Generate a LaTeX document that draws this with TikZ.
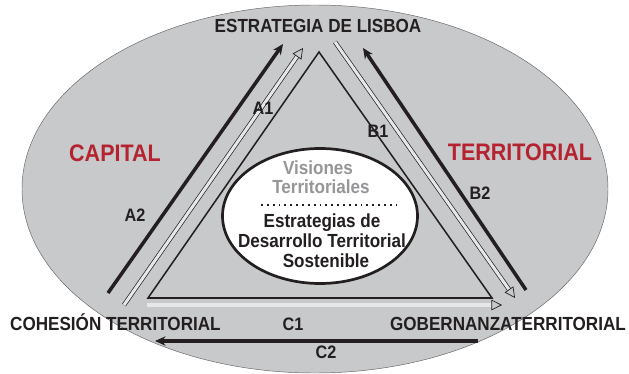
\documentclass[tikz,border=0pt]{standalone}
\usepackage{fontspec}
\setmainfont[FakeStretch=0.9]{Liberation Sans}
\usetikzlibrary{arrows.meta, shapes.geometric}

\definecolor{bggray}{RGB}{200,201,203}
\definecolor{capred}{RGB}{181,35,48}
\definecolor{textgray}{RGB}{150,150,152}
\definecolor{inkblack}{RGB}{35,31,32}

\begin{document}
\begin{tikzpicture}[
    x=0.03cm, y=-0.03cm,
    corner/.style={font=\fontsize{16.2}{19}\selectfont\bfseries, text=inkblack, inner sep=0pt, anchor=base},
    side/.style={font=\fontsize{20.4}{24}\selectfont\bfseries, text=capred, inner sep=0pt, anchor=base},
    tag/.style={font=\fontsize{15.4}{18}\selectfont\bfseries, text=inkblack, inner sep=0pt},
    inner/.style={font=\fontsize{16.2}{19}\selectfont\bfseries, inner sep=0pt, anchor=base},
    solidarrow/.style={line width=3pt, draw=inkblack, -{Stealth[length=9pt, width=8pt, inset=3pt]}},
    hollowarrow/.style={line width=0.6pt, draw=inkblack, double=white!55!bggray, double distance=2.6pt,
        -{Triangle[open, length=9pt, width=9pt]}},
]
\useasboundingbox (0,0) rectangle (629,374);

% background ellipse
\node[ellipse, draw=black!60, thin, fill=bggray, minimum width=586*0.03cm, minimum height=368*0.03cm,
      inner sep=0pt] (bg) at (315,189) {};

% triangle
\coordinate (top) at (319,52);
\coordinate (bl) at (148,298);
\coordinate (br) at (492,298);
\draw[line width=1.3pt, inkblack, line join=miter] (top) -- (bl) -- (br) -- cycle;

% central ellipse
\node[ellipse, draw=inkblack, line width=2.3pt, fill=white, minimum width=195*0.03cm, minimum height=135*0.03cm,
      inner sep=0pt] (core) at (320,216) {};
\node[inner, text=textgray] (vis1) at (318,175) {Visiones};
\node[inner, text=textgray] (vis2) at (321,194) {Territoriales};
\coordinate (dotl) at (261,205);
\coordinate (dotr) at (397,205);
\draw[line width=1.6pt, inkblack, dash pattern=on 1.6pt off 3.4pt] (dotl) -- (dotr);
\node[inner, text=inkblack] (est1) at (322,227) {Estrategias de};
\node[inner, text=inkblack] (est2) at (322,247) {Desarrollo Territorial};
\node[inner, text=inkblack] (est3) at (326,267) {Sostenible};

% corners
\node[corner] (lisboa) at (318,33) {ESTRATEGIA DE LISBOA};
\node[corner, anchor=base west] (cohesion) at (10,330) {COHESIÓN TERRITORIAL};
\node[corner, anchor=base east] (gober) at (626,330) {GOBERNANZATERRITORIAL};

% sides
\node[side] (capital) at (115,162) {CAPITAL};
\node[side] (territ) at (520,161) {TERRITORIAL};

% arrow ends
\coordinate (a2s) at (108,293); \coordinate (a2e) at (283,44);
\coordinate (a1s) at (124,305); \coordinate (a1e) at (303,48);
\coordinate (b1s) at (335,42);  \coordinate (b1e) at (515,298);
\coordinate (b2s) at (526,290); \coordinate (b2e) at (363,48);
\coordinate (c1s) at (147,305); \coordinate (c1e) at (502,305);
\coordinate (c2s) at (478,341); \coordinate (c2e) at (155,341);

\draw[solidarrow] (a2s) -- (a2e);
\draw[hollowarrow] (a1s) -- (a1e);
\draw[hollowarrow] (b1s) -- (b1e);
\draw[solidarrow] (b2s) -- (b2e);
\draw[hollowarrow] (c1s) -- (c1e);
\draw[solidarrow] (c2s) -- (c2e);

% labels
\node[tag] (la1) at (263,108) {A1};
\node[tag] (la2) at (135,215) {A2};
\node[tag] (lb1) at (378,131) {B1};
\node[tag] (lb2) at (480,193) {B2};
\node[tag] (lc1) at (293,324) {C1};
\node[tag] (lc2) at (326,352) {C2};
\end{tikzpicture}
\end{document}
